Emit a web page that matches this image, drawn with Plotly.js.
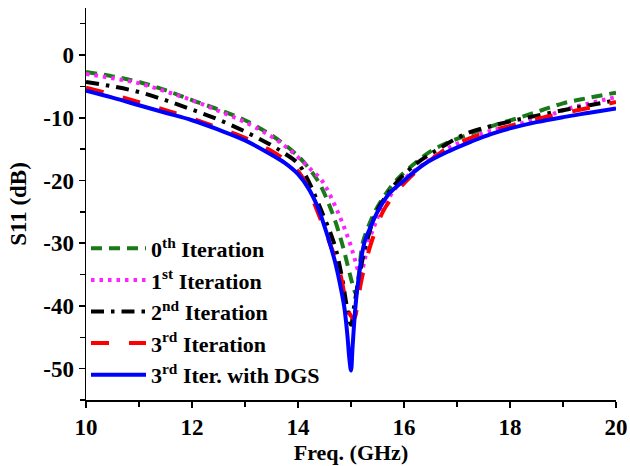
<!DOCTYPE html>
<html>
<head>
<meta charset="utf-8">
<script src="https://cdn.plot.ly/plotly-3.0.1.min.js"></script>
<style>html,body{margin:0;padding:0;background:#fff}#chart{width:630px;height:466px}</style>
</head>
<body>
<div id="chart"></div>
<script>
// Iteration 0
const f0 = [10, 10.5, 11, 11.5, 12, 12.5, 13, 13.5, 13.75, 14, 14.2, 14.4, 14.64, 14.83, 14.98, 15.05, 15.09, 15.14, 15.22, 15.32, 15.45, 15.65, 15.85, 16.2, 16.57, 17.26, 17.7, 18.17, 18.6, 19, 19.5, 20];
const s0 = [-2.7, -3.4, -4.3, -5.6, -7.2, -8.7, -10.4, -12.8, -14.3, -16.1, -18.0, -20.4, -25.0, -30.0, -35.0, -37.2, -38.0, -35.5, -30.0, -27.5, -25.0, -22.2, -20.0, -17.3, -15.0, -12.5, -11.2, -10.0, -8.8, -7.7, -6.8, -6.0];
// Iteration 1
const f1 = [10, 10.5, 11, 11.5, 12, 12.5, 13, 13.5, 13.75, 14, 14.25, 14.45, 14.75, 14.98, 15.08, 15.17, 15.25, 15.32, 15.43, 15.55, 15.75, 15.97, 16.4, 16.8, 17.48, 18, 18.62, 19, 19.5, 20];
const s1 = [-3.0, -3.7, -4.5, -5.8, -7.2, -8.9, -10.7, -13.0, -14.5, -16.3, -18.3, -20.0, -25.0, -30.0, -32.8, -35.0, -33.0, -30.0, -27.5, -25.0, -22.3, -20.0, -17.2, -15.0, -12.5, -11.3, -10.0, -8.8, -7.7, -6.7];
// Iteration 2
const f2 = [10, 10.5, 11, 11.5, 12, 12.5, 13, 13.5, 13.75, 14, 14.18, 14.45, 14.68, 14.82, 14.92, 15.0, 15.06, 15.16, 15.29, 15.48, 15.68, 15.89, 16.25, 16.65, 17.18, 17.7, 18.32, 19, 19.5, 20];
const s2 = [-4.3, -5.0, -5.9, -7.2, -8.7, -10.3, -12.2, -14.4, -15.7, -17.3, -19.8, -25.0, -30.0, -35.0, -40.0, -43.0, -40.0, -35.0, -30.0, -25.0, -22.3, -20.0, -17.2, -15.0, -12.5, -11.2, -10.0, -8.8, -8.0, -7.2];
// Iteration 3
const f3 = [10, 10.5, 11, 11.5, 12, 12.5, 13, 13.5, 13.75, 14, 14.15, 14.37, 14.6, 14.8, 14.92, 15.0, 15.06, 15.14, 15.22, 15.38, 15.6, 15.8, 16.05, 16.4, 16.8, 17.48, 18, 18.5, 19, 19.5, 20];
const s3 = [-5.2, -6.3, -7.5, -8.8, -10.1, -11.6, -13.2, -15.3, -16.7, -18.5, -20.5, -25.0, -30.0, -35.0, -40.0, -41.6, -42.0, -38.5, -35.0, -30.0, -25.0, -22.5, -20.0, -17.4, -15.0, -12.5, -11.3, -10.2, -9.3, -8.4, -7.5];
// Iteration 3 with DGS
const fD = [10, 10.5, 11, 11.5, 12, 12.5, 13, 13.5, 13.75, 14, 14.2, 14.37, 14.5, 14.6, 14.7, 14.78, 14.87, 14.93, 14.97, 15.0, 15.03, 15.08, 15.13, 15.25, 15.38, 15.5, 15.7, 16, 16.4, 16.88, 17.3, 17.64, 18, 18.5, 19, 19.5, 20];
const sD = [-5.7, -6.8, -8.0, -9.2, -10.4, -11.9, -13.6, -15.9, -17.2, -19.0, -21.3, -24.2, -27.3, -30.0, -33.0, -36.0, -40.0, -44.5, -48.5, -50.3, -46.5, -40.5, -36.5, -30.0, -27.2, -25.0, -22.3, -20.0, -17.3, -15.2, -13.7, -12.6, -11.7, -10.7, -9.9, -9.2, -8.5];

const names = ['0<sup>th</sup> Iteration', '1<sup>st</sup> Iteration', '2<sup>nd</sup> Iteration', '3<sup>rd</sup> Iteration', '3<sup>rd</sup> Iter. with DGS'];
const xTicks = [10, 12, 14, 16, 18, 20];
const yTicks = [0, -10, -20, -30, -40, -50];

const W = 4;
const traces = [
  {x: f0, y: s0, name: names[0], line: {color: '#1a7a1a', width: W, dash: '11px,7px'}},
  {x: f1, y: s1, name: names[1], line: {color: '#ff22ff', width: W, dash: '3.5px,5px'}},
  {x: f2, y: s2, name: names[2], line: {color: '#000000', width: W, dash: '13px,7px,3.5px,7px'}},
  {x: f3, y: s3, name: names[3], line: {color: '#ff0000', width: W, dash: '18px,20px'}},
  {x: fD, y: sD, name: names[4], line: {color: '#0000ff', width: W}}
].map(t => {
  t.line.shape = 'spline'; t.line.smoothing = 1;
  return Object.assign({type: 'scatter', mode: 'lines'}, t);
});

const fontFam = '"Liberation Serif", "Times New Roman", serif';
const layout = {
  width: 630, height: 466,
  margin: {l: 86, r: 14, t: 8, b: 66},
  paper_bgcolor: '#fff', plot_bgcolor: '#fff',
  font: {family: fontFam, size: 22, color: '#000', weight: 'bold'},
  showlegend: true,
  legend: {x: 0.0, y: 0.44, xanchor: 'left', yanchor: 'top', bgcolor: 'rgba(0,0,0,0)',
           itemwidth: 55,
           font: {family: fontFam, size: 22, color: '#000', weight: 'bold'}, tracegroupgap: 0},
  xaxis: {
    range: [10, 20], tickvals: xTicks, ticktext: xTicks.map(String),
    showgrid: false, zeroline: false, showline: true, linecolor: '#000', linewidth: 1.5,
    ticks: 'outside', ticklen: 6, tickwidth: 1.5, tickcolor: '#000',
    minor: {dtick: 1, ticks: 'outside', ticklen: 5, tickwidth: 1.5, tickcolor: '#000', showgrid: false},
    tickfont: {family: fontFam, size: 23, weight: 'bold'},
    title: {text: 'Freq. (GHz)', font: {family: fontFam, size: 22, weight: 'bold'}, standoff: 4}
  },
  yaxis: {
    range: [-55, 7.5], tickvals: yTicks, ticktext: yTicks.map(String),
    showgrid: false, zeroline: false, showline: true, linecolor: '#000', linewidth: 1.5,
    ticks: 'outside', ticklen: 6, tickwidth: 1.5, tickcolor: '#000',
    minor: {dtick: 5, ticks: 'outside', ticklen: 5, tickwidth: 1.5, tickcolor: '#000', showgrid: false},
    tickfont: {family: fontFam, size: 23, weight: 'bold'},
    title: {text: 'S11 (dB)', font: {family: fontFam, size: 23, weight: 'bold'}, standoff: 10}
  }
};
Plotly.newPlot('chart', traces, layout, {displayModeBar: false, staticPlot: true}).then(gd => {
  // lengthen the legend sample lines to fill the wider symbol area
  gd.querySelectorAll('.legendlines path').forEach(p => p.setAttribute('d', 'M5,0h55'));
});
</script>
</body>
</html>
